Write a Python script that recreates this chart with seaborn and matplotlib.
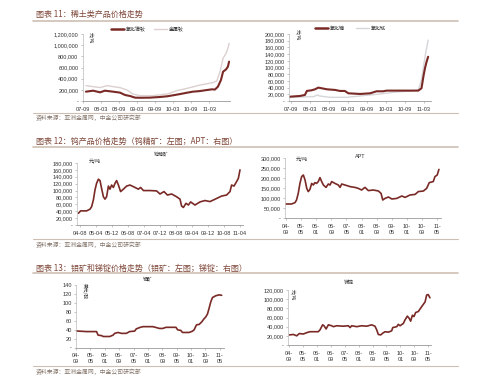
import numpy as np
import pandas as pd
import matplotlib
matplotlib.use("Agg")
import matplotlib.pyplot as plt
from matplotlib.lines import Line2D
from matplotlib.ticker import FuncFormatter
import seaborn as sns

# ---------------- DATA ----------------
# Fig 11 left: months since 2007-09
p1_ticks = ["07-09", "08-03", "08-09", "09-03", "09-09", "10-03", "10-09", "11-03"]
p1_dark_x = [1.1, 3.5, 5.8, 7.4, 10.1, 12.4, 14.1, 15.7, 17.4, 19.0, 22.3, 25.7, 28.0, 30.0,
             32.4, 34.7, 36.6, 38.9, 41.3, 42.9, 43.9, 44.9, 45.9, 46.6, 47.6, 48.2, 48.6]
p1_dark = [167e3, 185e3, 155e3, 185e3, 167e3, 150e3, 107e3, 90e3, 60e3, 58e3, 60e3, 72e3, 84e3, 102e3,
           125e3, 149e3, 167e3, 178e3, 197e3, 209e3, 205e3, 257e3, 376e3, 525e3, 567e3, 615e3, 705e3]
p1_light_x = [1.1, 5.8, 8.1, 10.1, 12.4, 14.7, 16.7, 19.0, 23.4, 28.0, 31.3, 34.7, 38.9, 43.2,
              44.5, 45.6, 46.6, 47.6, 48.2, 48.6]
p1_light = [275e3, 240e3, 275e3, 257e3, 240e3, 197e3, 125e3, 96e3, 96e3, 125e3, 185e3, 227e3, 285e3, 328e3,
            358e3, 525e3, 765e3, 854e3, 943e3, 1033e3]

# Fig 11 right
p2_ticks = p1_ticks
p2_dark_x = [-0.3, 2.8, 4.4, 5.0, 6.5, 7.6, 8.6, 9.7, 11.3, 13.9, 15.5, 17.0, 18.1, 21.8, 25.0,
             27.0, 29.1, 30.2, 34.4, 38.6, 40.2, 41.2, 41.8, 42.3, 42.8, 43.3]
p2_dark = [12.9e3, 15e3, 18e3, 30e3, 32e3, 35e3, 40e3, 38e3, 35e3, 33e3, 30e3, 30e3, 23e3, 21e3, 23e3,
           29e3, 29e3, 31e3, 31e3, 31e3, 31e3, 38e3, 73e3, 98e3, 117e3, 132e3]
p2_light_x = [-0.3, 7.1, 8.4, 9.0, 12.3, 17.6, 21.8, 28.1, 33.3, 38.6, 40.2, 41.2, 42.0, 42.6, 43.3]
p2_light = [11e3, 13e3, 18e3, 15e3, 11e3, 11e3, 15e3, 21e3, 27e3, 30e3, 33e3, 63e3, 113e3, 147e3, 182e3]

# Fig 12 left: months since 2004-08
p3_ticks = ["04-08", "05-04", "05-12", "06-08", "07-04", "07-12", "08-08", "09-04", "09-12", "10-08", "11-04"]
p3_x = [-0.8, 0.3, 3.3, 5.0, 5.8, 6.7, 7.5, 8.3, 9.2, 10.0, 10.8, 11.7, 12.5, 13.3, 14.2, 15.0, 15.8,
        16.7, 17.5, 18.3, 19.2, 20.3, 21.7, 23.3, 25.0, 27.5, 29.2, 30.3, 31.7, 35.0, 38.3, 40.0, 42.0,
        43.7, 45.8, 48.3, 50.0, 50.8, 51.7, 53.0, 54.2, 55.3, 57.5, 60.0, 62.5, 65.0, 68.3, 70.8, 73.3,
        75.0, 75.8, 77.0, 78.3, 79.2, 80.0]
p3_y = [34e3, 41e3, 41e3, 46e3, 53e3, 73e3, 102e3, 121e3, 133e3, 129e3, 106e3, 82e3, 75e3, 82e3, 113e3,
        104e3, 116e3, 109e3, 121e3, 129e3, 116e3, 97e3, 104e3, 113e3, 116e3, 109e3, 104e3, 109e3, 100e3,
        100e3, 99e3, 90e3, 97e3, 87e3, 90e3, 82e3, 75e3, 55e3, 51e3, 63e3, 58e3, 67e3, 58e3, 67e3, 71e3,
        68e3, 77e3, 84e3, 87e3, 97e3, 116e3, 113e3, 126e3, 136e3, 160e3]

# Fig 12 right (APT): months since 2004-09
p4_ticks = ["04-\n09", "05-\n05", "06-\n01", "06-\n09", "07-\n05", "08-\n01", "08-\n09", "09-\n05",
            "10-\n01", "10-\n09", "11-\n05"]
p4_x = [0.0, 3.0, 4.8, 5.6, 6.5, 7.4, 8.3, 9.2, 10.1, 11.0, 11.8, 12.7, 13.6, 14.5, 15.3, 16.2, 17.1,
        18.0, 18.9, 19.8, 21.2, 22.4, 23.3, 24.2, 25.9, 27.7, 28.6, 29.5, 31.2, 33.9, 36.5, 38.3, 40.0,
        41.8, 43.6, 46.2, 48.9, 50.3, 51.2, 52.4, 54.2, 56.0, 58.6, 61.3, 63.0, 65.6, 68.3, 70.0, 72.7,
        74.4, 75.8, 77.9, 78.8, 80.0, 80.9]
p4_y = [70e3, 70e3, 77e3, 90e3, 123e3, 173e3, 207e3, 215e3, 190e3, 148e3, 132e3, 143e3, 173e3, 165e3,
        177e3, 173e3, 182e3, 202e3, 182e3, 165e3, 153e3, 170e3, 165e3, 182e3, 173e3, 165e3, 153e3, 170e3,
        165e3, 157e3, 153e3, 148e3, 140e3, 153e3, 137e3, 140e3, 135e3, 123e3, 90e3, 98e3, 105e3, 95e3,
        98e3, 110e3, 103e3, 115e3, 118e3, 132e3, 135e3, 148e3, 177e3, 182e3, 207e3, 215e3, 243e3]

# Fig 13 left (molybdenum ore)
p5_ticks = p4_ticks
p5_x = [0.4, 5.9, 11.4, 12.3, 14.2, 15.1, 18.8, 20.6, 21.5, 23.4, 25.2, 28.0, 29.8, 32.6, 33.5, 35.4,
        37.2, 42.7, 44.6, 46.4, 48.2, 50.1, 55.6, 56.5, 58.3, 59.2, 62.9, 64.8, 65.7, 67.0, 68.5, 70.0,
        70.9, 72.2, 73.1, 74.0, 75.0, 75.9, 77.7, 79.6, 81.0]
p5_y = [37.3, 36, 36, 28, 27, 25, 25, 28, 32, 34, 32, 32, 36, 37, 42, 45, 47, 47, 45, 43, 43, 45.5,
        45.5, 40, 38.5, 34, 34, 37, 40, 51, 52, 58, 63, 69, 75, 88, 103, 112, 116, 118, 117]

# Fig 13 right (antimony ingot)
p6_ticks = p4_ticks
p6_x = [0.2, 2.5, 4.4, 5.9, 8.2, 10.2, 12.1, 16.8, 17.8, 19.3, 20.1, 21.3, 22.6, 24.5, 25.5, 27.4,
        31.2, 34.1, 35.1, 36.0, 38.9, 41.8, 44.6, 47.5, 49.4, 50.4, 51.3, 52.7, 53.9, 55.2, 57.1, 59.0,
        59.6, 61.9, 62.8, 63.8, 65.7, 66.7, 68.0, 69.1, 69.9, 70.9, 71.8, 72.8, 74.3, 76.3, 78.2, 79.1,
        80.0, 81.0]
p6_y = [22e3, 23e3, 20e3, 25e3, 24e3, 27e3, 29e3, 29e3, 33e3, 44e3, 42e3, 35e3, 44e3, 42e3, 40e3, 42e3,
        41e3, 42e3, 38e3, 42e3, 40e3, 42e3, 41e3, 44e3, 41e3, 33e3, 23e3, 22e3, 26e3, 29e3, 28e3, 31e3,
        38e3, 40e3, 45e3, 42e3, 47e3, 55e3, 63e3, 58e3, 52e3, 65e3, 62e3, 71e3, 73e3, 84e3, 94e3, 109e3,
        110e3, 103e3]

# ---------------- STYLE ----------------
sns.set_theme(style="white")
plt.rcParams["font.family"] = ["Liberation Sans", "Noto Sans CJK SC", "DejaVu Sans"]
CJK = ["Noto Sans CJK SC", "DejaVu Sans"]

W, H = 499, 383
fig = plt.figure(figsize=(W / 100, H / 100), dpi=100)
fig.patch.set_facecolor("white")

DARK = "#7A2A26"
LIGHT1 = "#DCD0D0"
LIGHT2 = "#D6D6DA"
TITLE_C = "#7E4638"
SRC_C = "#85766C"
RULE_C = "#CDBFB4"


def P(x, y):
    return x / W, 1 - y / H


def make_ax(x0, x1, y0, y1):
    ax = fig.add_axes([x0 / W, 1 - y1 / H, (x1 - x0) / W, (y1 - y0) / H])
    ax.set_facecolor("white")
    for s in ["top", "right"]:
        ax.spines[s].set_visible(False)
    ax.spines["left"].set_color("#BBBBBB")
    ax.spines["left"].set_linewidth(0.5)
    ax.spines["bottom"].set_color("#999999")
    ax.spines["bottom"].set_linewidth(0.6)
    ax.tick_params(axis="both", which="both", labelsize=4, length=1.5, width=0.4,
                   color="#999999", labelcolor="#333333", pad=1.5, direction="out",
                   bottom=True, left=True)
    ax.grid(False)
    return ax


def yfmt(v, pos):
    if abs(v) < 1e-9:
        return "-"
    return f"{v:,.0f}"


def setup(ax, xlim, ylim, ystep, ticks, tickstep, xpad=2.5):
    ax.set_xlim(*xlim)
    ax.set_ylim(*ylim)
    ax.set_yticks(np.arange(0, ylim[1] + ystep * 0.01, ystep))
    ax.yaxis.set_major_formatter(FuncFormatter(yfmt))
    ax.set_xticks([i * tickstep for i in range(len(ticks))])
    ax.set_xticklabels(ticks, linespacing=1.3)
    ax.tick_params(axis="x", pad=xpad)
    ax.set_xlabel("")
    ax.set_ylabel("")


def line(ax, x, y, color, lw, label=None):
    df = pd.DataFrame({"x": x, "y": y})
    sns.lineplot(data=df, x="x", y="y", ax=ax, color=color, linewidth=lw,
                 estimator=None, sort=False, label=label, legend=False)


def section(y_title, title, y_rule, y_src_rule, y_src):
    fig.text(*P(36, y_title), title, family=CJK, fontsize=5.8, color=TITLE_C,
             ha="left", va="center", style="italic", weight="light")
    fig.add_artist(Line2D([33 / W, 458 / W], [1 - y_rule / H] * 2, color=RULE_C, lw=1.2))
    fig.add_artist(Line2D([33 / W, 458 / W], [1 - y_src_rule / H] * 2, color=RULE_C, lw=0.8))
    fig.text(*P(36, y_src), "资料来源：亚洲金属网，中金公司研究部", family=CJK, fontsize=4.2,
             color=SRC_C, ha="left", va="center", style="italic", weight="light")


def small(x, y, s, rot=0, size=3.6):
    fig.text(*P(x, y), s, family=CJK, fontsize=size, color="#333333",
             ha="center", va="center", rotation=rot)


# ---------------- SECTION 11 ----------------
section(14.5, "图表 11：稀土类产品价格走势", 20.8, 112.7, 117.5)

ax1 = make_ax(82.6, 230, 34, 101)
line(ax1, p1_light_x, p1_light, LIGHT1, 1.0, "金属钕")
line(ax1, p1_dark_x, p1_dark, DARK, 1.5, "氧化镨钕")
setup(ax1, (0, 48.9), (0, 1200000), 200000, p1_ticks, 6)
h1 = [Line2D([], [], color=DARK, lw=1.8), Line2D([], [], color=LIGHT1, lw=1.0)]
ax1.legend(h1, ["氧化镨钕", "金属钕"], ncol=2, frameon=False, loc="center",
           bbox_to_anchor=P(147, 29.5), bbox_transform=fig.transFigure,
           prop={"family": CJK, "size": 3.6}, handlelength=2.6, handletextpad=0.4,
           columnspacing=1.6, borderpad=0)
small(90, 38, "元/吨", rot=-90, size=3.4)

ax2 = make_ax(289, 431, 34, 101)
line(ax2, p2_light_x, p2_light, LIGHT2, 1.0, "氧化铽")
line(ax2, p2_dark_x, p2_dark, DARK, 1.5, "氧化镝")
setup(ax2, (-0.63, 44.2), (0, 200000), 20000, p2_ticks, 6)
h2 = [Line2D([], [], color=DARK, lw=1.8), Line2D([], [], color=LIGHT2, lw=1.0)]
ax2.legend(h2, ["氧化镝", "氧化铽"], ncol=2, frameon=False, loc="center",
           bbox_to_anchor=P(350, 28.5), bbox_transform=fig.transFigure,
           prop={"family": CJK, "size": 3.6}, handlelength=2.6, handletextpad=0.4,
           columnspacing=2.2, borderpad=0)
small(297, 35, "元/吨", rot=-90, size=3.4)

# ---------------- SECTION 12 ----------------
section(141.5, "图表 12：钨产品价格走势（钨精矿：左图；APT：右图）", 146.5, 239.3, 245)

ax3 = make_ax(77, 243, 163, 225)
line(ax3, p3_x, p3_y, DARK, 1.2)
setup(ax3, (-1.5, 81.5), (0, 180000), 20000, p3_ticks, 8)
small(161, 155, "钨精矿", size=3.6)
small(95, 161, "元/吨", size=3.6)

ax4 = make_ax(285, 441, 158, 218)
line(ax4, p4_x, p4_y, DARK, 1.2)
setup(ax4, (-0.5, 82), (0, 300000), 50000, p4_ticks, 8)
fig.text(*P(360, 157), "APT", fontsize=4, color="#333333", ha="center", va="center")
small(302, 159, "元/吨", size=3.6)

# ---------------- SECTION 13 ----------------
section(268, "图表 13：钼矿和锑锭价格走势（钼矿：左图；锑锭：右图）", 272.5, 366, 371.5)

ax5 = make_ax(76, 224, 285, 347.7)
line(ax5, p5_x, p5_y, DARK, 1.2)
setup(ax5, (0, 82.3), (0, 140), 20, p5_ticks, 8)
small(148, 280, "钼矿", size=3.6)
small(85, 291, "美元/磅", rot=-90, size=3.4)

ax6 = make_ax(288, 431, 290, 345)
line(ax6, p6_x, p6_y, DARK, 1.2)
setup(ax6, (-0.6, 81.6), (0, 120000), 20000, p6_ticks, 8)
small(349, 282, "锑锭", size=3.6)
small(292, 295, "元/吨", rot=-90, size=3.4)

fig.savefig("out.png", dpi=100, facecolor="white")
